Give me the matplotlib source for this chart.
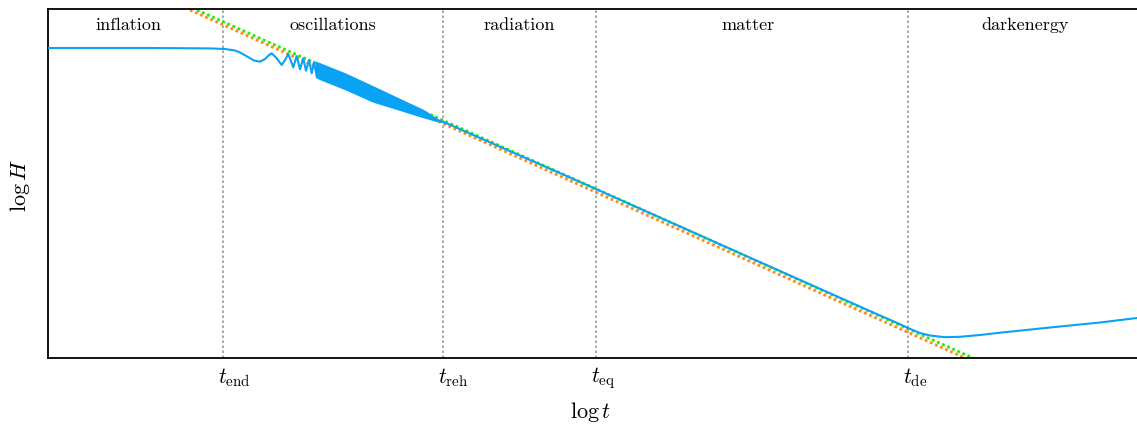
import numpy as np
import matplotlib
matplotlib.use("Agg")
import matplotlib.pyplot as plt
import matplotlib.transforms as mtransforms

plt.rcParams['mathtext.fontset'] = 'cm'
plt.rcParams['font.family'] = ['cmr10', 'DejaVu Serif']
plt.rcParams['axes.unicode_minus'] = False

# ---- data (arbitrary units of log t and log H) ----
# blue curve: plateau + first visible oscillations
h_early_x = [0, 102, 162, 177, 187, 192, 200, 206, 212, 217, 220.5, 223.7, 228.5, 233.7, 237,
             240.3, 245.3, 248.7, 252, 255.3, 258, 261, 263.7, 266, 268.7]
h_early_y = [310, 310, 309.6, 309, 307.5, 305.5, 301, 297.5, 296.3, 299, 302.5, 304.7, 300, 293, 298,
             304, 290.7, 302, 288.7, 299.7, 287.3, 298, 284.7, 296, 282]
# dense oscillation band envelopes
band_x = [268, 272, 297, 325, 359, 375, 389, 395]
band_hi = [296, 294.5, 284.5, 271.5, 255.5, 248, 239, 236.5]
band_lo = [281, 279, 269, 256.5, 246, 241, 237, 236]
# late-time curve: radiation, matter, dark energy
h_late_x = [395, 548, 702, 832, 847, 860, 872, 882, 897, 912, 932, 952, 1002, 1052, 1089]
h_late_y = [236.3, 169, 100.3, 42.5, 36, 30, 25, 22.5, 20.8, 21.2, 23, 25.3, 30.5, 35.5, 40]
# asymptotic straight lines
green_x = [149, 925]
green_y = [348, 0]
orange_x = [142, 917]
orange_y = [348, 0]
# epochs
epoch_x = [175, 395, 548, 860]
epoch_labels = [r'$t_{\mathrm{end}}$', r'$t_{\mathrm{reh}}$', r'$t_{\mathrm{eq}}$', r'$t_{\mathrm{de}}$']
region_x = [80, 285, 471, 700, 977]
region_labels = ['inflation', 'oscillations', 'radiation', 'matter', 'darkenergy']

blue = '#0aa2f5'

fig = plt.figure(figsize=(11.37, 4.30), dpi=100)
ax = fig.add_axes([48/1137, 72/430, 1089/1137, 349/430])
ax.set_xlim(0, 1089)
ax.set_ylim(0, 349)

for xv in epoch_x:
    ax.axvline(xv, color='#9a9a9a', lw=1.2, ls=(0, (1.5, 1.5)), zorder=1)

ax.plot(orange_x, orange_y, color='#ff8a1c', lw=2.0, ls=(0, (1, 1)), zorder=2)
ax.plot(green_x, green_y, color='#22ee00', lw=2.0, ls=(0, (1, 1)), zorder=2)

ax.plot(h_early_x, h_early_y, color=blue, lw=1.5, zorder=3, solid_joinstyle='round')
ax.fill_between(band_x, band_lo, band_hi, color=blue, lw=1.0, zorder=3)
ax.plot(h_late_x, h_late_y, color=blue, lw=1.5, zorder=3)

for s in ['left', 'top', 'bottom']:
    ax.spines[s].set_linewidth(1.3)
ax.spines['right'].set_visible(False)
ax.set_xticks([])
ax.set_yticks([])

trans = mtransforms.blended_transform_factory(ax.transData, ax.transAxes)
for xv, lab in zip(epoch_x, epoch_labels):
    t = mtransforms.offset_copy(trans, fig=fig, x=-5, y=-20, units='dots')
    ax.text(xv, 0, lab, transform=t, ha='left', va='center', fontsize=15.5)

for xv, lab in zip(region_x, region_labels):
    ax.text(xv, (358 - 25) / 349, lab, transform=trans, ha='center', va='center', fontsize=13)

fig.text(590 / 1137, 1 - 412 / 430, r'$\log t$', ha='center', va='center', fontsize=16)
fig.text(20 / 1137, 1 - 185 / 430, r'$\log H$', ha='center', va='center', fontsize=16, rotation=90)

fig.savefig('out.png', dpi=100)
